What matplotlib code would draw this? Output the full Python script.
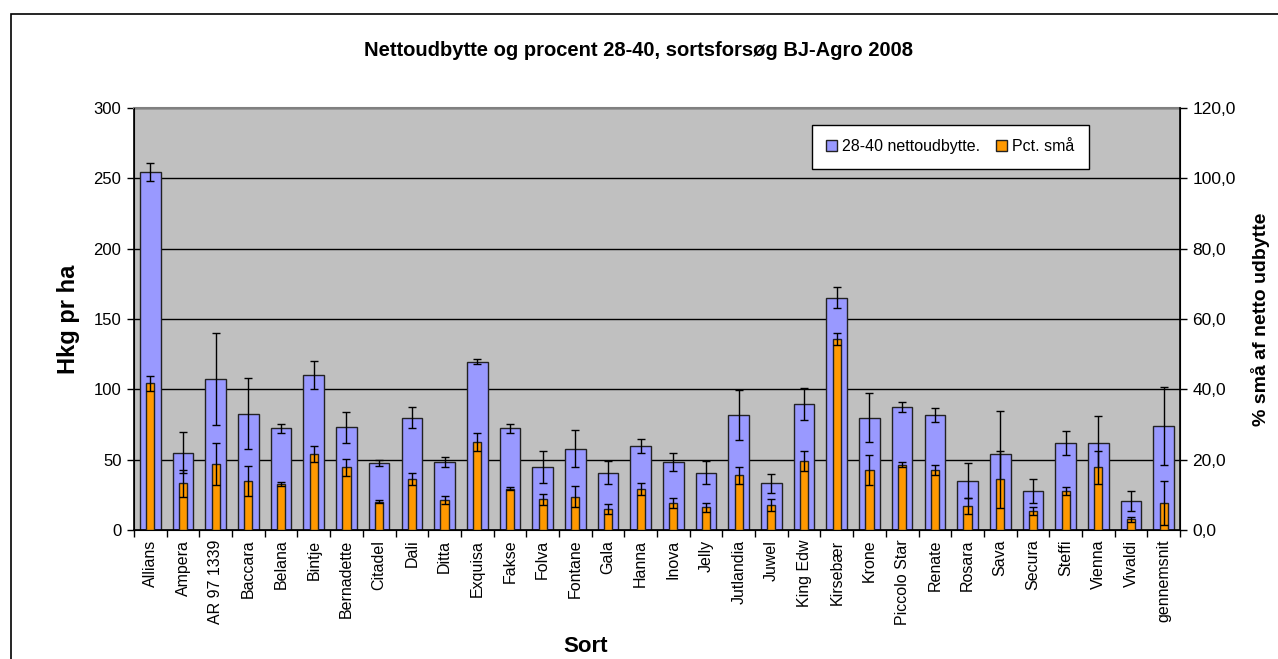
import matplotlib
matplotlib.use("Agg")
import matplotlib.pyplot as plt
import numpy as np
from matplotlib.patches import Rectangle

plt.rcParams['font.family'] = ['Liberation Sans', 'DejaVu Sans']

# data
sorter = ["Allians", "Ampera", "AR 97 1339", "Baccara", "Belana", "Bintje", "Bernadette",
          "Citadel", "Dali", "Ditta", "Exquisa", "Fakse", "Folva", "Fontane", "Gala",
          "Hanna", "Inova", "Jelly", "Jutlandia", "Juwel", "King Edw", "Kirsebær",
          "Krone", "Piccolo Star", "Renate", "Rosara", "Sava", "Secura", "Steffi",
          "Vienna", "Vivaldi", "gennemsnit"]
netto = [254.4, 55.0, 107.1, 82.7, 72.3, 110.2, 73.2, 47.4, 79.8, 48.3, 119.6, 72.3,
         44.6, 57.8, 40.7, 59.7, 48.3, 40.7, 81.7, 33.2, 89.3, 165.1, 79.8, 87.4,
         81.7, 35.0, 54.0, 27.5, 61.6, 61.6, 20.9, 74.1]
netto_err = [6.5, 14.7, 32.7, 25.3, 3.3, 10.0, 11.0, 2.1, 7.6, 3.8, 1.8, 3.3,
             11.5, 13.3, 8.2, 5.2, 6.6, 8.2, 18.0, 6.6, 11.4, 7.6, 17.5, 3.8,
             4.8, 12.3, 30.5, 8.5, 8.6, 19.1, 7.1, 27.7]
pct_smaa = [41.7, 13.3, 18.7, 14.0, 13.1, 21.6, 17.8, 8.0, 14.4, 8.5, 25.1, 11.8,
            8.7, 9.5, 6.0, 11.7, 7.6, 6.4, 15.5, 7.2, 19.7, 54.3, 17.1, 18.6,
            17.1, 6.8, 14.4, 5.3, 11.0, 17.8, 3.0, 7.6]
pct_err = [2.1, 3.8, 6.0, 4.3, 0.6, 2.2, 2.5, 0.4, 1.7, 1.2, 2.5, 0.4,
           1.5, 3.0, 1.4, 1.7, 1.4, 1.3, 2.3, 1.7, 2.9, 1.6, 4.2, 0.7,
           1.5, 2.3, 8.2, 1.1, 1.1, 4.6, 0.8, 6.2]

fig = plt.figure(figsize=(12.78, 6.59), dpi=100)
fig.patches.append(Rectangle((11 / 1278, -0.1), 1.2, (659 - 14) / 659 + 0.1,
                             transform=fig.transFigure, fill=False,
                             edgecolor='black', linewidth=1.2))

ax = fig.add_axes([134 / 1278, 129 / 659, 1046 / 1278, 422 / 659])
ax.set_facecolor('#C0C0C0')
x = np.arange(len(sorter))

ax.bar(x, netto, width=0.63, color='#9999FF', edgecolor='#222222', linewidth=1,
       yerr=netto_err, error_kw=dict(ecolor='black', elinewidth=1, capsize=3, capthick=1),
       label='28-40 nettoudbytte.', zorder=2)
ax.set_ylim(0, 300)
ax.set_yticks(np.arange(0, 301, 50))
ax.yaxis.grid(True, color='black', linewidth=1)
ax.set_axisbelow(True)
ax.set_xlim(-0.5, len(sorter) - 0.5)
ax.set_xticks(x)
ax.set_xticklabels(sorter, rotation=90, fontsize=11.5)
ax.set_xticks(np.arange(-0.5, len(sorter), 1), minor=True)
ax.tick_params(axis='x', which='major', length=0, pad=7)
ax.tick_params(axis='x', which='minor', length=5, width=1)
ax.tick_params(axis='y', labelsize=12, length=5, width=1, pad=4)
ax.spines['top'].set_color('#808080')
ax.spines['top'].set_linewidth(1.5)
ax.spines['left'].set_linewidth(1.2)
ax.spines['bottom'].set_linewidth(1.2)

ax.set_ylabel('Hkg pr ha', fontsize=17, fontweight='bold', va='center')
ax.yaxis.set_label_coords(-0.063, 0.5)
ax.set_xlabel('Sort', fontsize=16, fontweight='bold', va='center')
ax.xaxis.set_label_coords(0.432, -0.276)
fig.text(638 / 1278, 1 - 50 / 659, 'Nettoudbytte og procent 28-40, sortsforsøg BJ-Agro 2008',
         fontsize=14.5, fontweight='bold', ha='center', va='center')

ax2 = ax.twinx()
ax2.bar(x, pct_smaa, width=0.25, color='#FF9900', edgecolor='#222222', linewidth=1,
        yerr=pct_err, error_kw=dict(ecolor='black', elinewidth=1, capsize=3, capthick=1),
        label='Pct. små', zorder=3)
ax2.set_ylim(0, 120)
ax2.set_yticks(np.arange(0, 121, 20))
ax2.set_yticklabels([f"{v:.1f}".replace('.', ',') for v in np.arange(0, 121, 20)])
ax2.tick_params(axis='y', labelsize=12.5, length=5, width=1, pad=4)
ax2.spines['top'].set_visible(False)
ax2.spines['right'].set_linewidth(1.2)
ax2.set_ylabel('% små af netto udbytte', fontsize=14, fontweight='bold', va='center')
ax2.yaxis.set_label_coords(1.0765, 0.5)

h1, l1 = ax.get_legend_handles_labels()
h2, l2 = ax2.get_legend_handles_labels()
leg = ax2.legend(h1 + h2, l1 + l2, ncol=2, loc='upper left', bbox_to_anchor=(0.648, 0.96),
                 fontsize=11.5, frameon=True, fancybox=False, edgecolor='black',
                 framealpha=1, handlelength=0.7, handleheight=0.7, handletextpad=0.3,
                 columnspacing=1.0, borderpad=0.9, borderaxespad=0)
leg.get_frame().set_linewidth(1)

fig.savefig('out.png', dpi=100)
